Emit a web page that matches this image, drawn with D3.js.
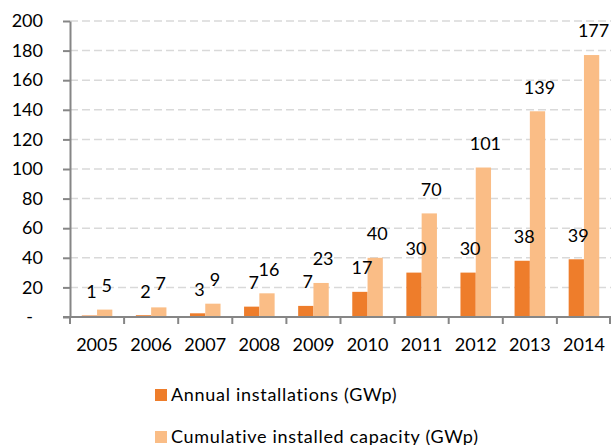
<!DOCTYPE html>
<html>
<head>
<meta charset="utf-8">
<script src="https://cdn.jsdelivr.net/npm/d3@7"></script>
<style>
  body { margin: 0; background: #fff; }
  text { font-family: Lato, "Open Sans", sans-serif; fill: #000; }
</style>
</head>
<body>
<div id="chart"></div>
<script>
// data
var years = ["2005", "2006", "2007", "2008", "2009", "2010", "2011", "2012", "2013", "2014"];
var annual = [1, 1.2, 2.5, 7, 7.5, 17, 30, 30, 38, 39];
var annualLabels = ["1", "2", "3", "7", "7", "17", "30", "30", "38", "39"];
var cumulative = [5, 6.5, 9, 16, 23, 40, 70, 101, 139, 177];
var cumulativeLabels = ["5", "7", "9", "16", "23", "40", "70", "101", "139", "177"];
var yTicks = [0, 20, 40, 60, 80, 100, 120, 140, 160, 180, 200];
var seriesNames = ["Annual installations (GWp)", "Cumulative installed capacity (GWp)"];
var colors = ["#EE7D2B", "#FABD86"];

var width = 612, height = 445;
var fontSize = 18;

var svg = d3.select("#chart")
  .append("svg")
  .attr("width", width)
  .attr("height", height);

var x = d3.scaleBand()
  .domain(years)
  .range([70, 611])
  .paddingInner(0)
  .paddingOuter(0);

var x1 = d3.scaleBand()
  .domain(["a", "c"])
  .range([0, x.bandwidth()])
  .paddingInner(0)
  .paddingOuter(0.77);

var y = d3.scaleLinear()
  .domain([0, 200])
  .range([317, 21]);

// gridlines
svg.append("g")
  .selectAll("line")
  .data(yTicks.slice(1))
  .enter()
  .append("line")
  .attr("x1", 70)
  .attr("x2", 611)
  .attr("y1", function(d) { return y(d); })
  .attr("y2", function(d) { return y(d); })
  .attr("stroke", "#d9d9d9")
  .attr("stroke-width", 1.5)
  .attr("stroke-dasharray", "8,4");

// bars
var groups = svg.append("g")
  .selectAll("g")
  .data(years)
  .enter()
  .append("g")
  .attr("transform", function(d) { return "translate(" + x(d) + ",0)"; });

groups.append("rect")
  .attr("x", x1("a"))
  .attr("y", function(d, i) { return y(annual[i]); })
  .attr("width", x1.bandwidth())
  .attr("height", function(d, i) { return y(0) - y(annual[i]); })
  .attr("fill", colors[0]);

groups.append("rect")
  .attr("x", x1("c"))
  .attr("y", function(d, i) { return y(cumulative[i]); })
  .attr("width", x1.bandwidth())
  .attr("height", function(d, i) { return y(0) - y(cumulative[i]); })
  .attr("fill", colors[1]);

// data labels
groups.append("text")
  .attr("x", x1("a") + x1.bandwidth() / 2 + 2)
  .attr("y", function(d, i) { return y(annual[i]) - 24; })
  .attr("dy", "0.35em")
  .attr("text-anchor", "middle")
  .attr("font-size", fontSize)
  .text(function(d, i) { return annualLabels[i]; });

groups.append("text")
  .attr("x", x1("c") + x1.bandwidth() / 2 + 2)
  .attr("y", function(d, i) { return y(cumulative[i]) - 24; })
  .attr("dy", "0.35em")
  .attr("text-anchor", "middle")
  .attr("font-size", fontSize)
  .text(function(d, i) { return cumulativeLabels[i]; });

// y axis
var yAxis = svg.append("g")
  .attr("transform", "translate(70,0)")
  .call(d3.axisLeft(y)
    .tickValues(yTicks)
    .tickSize(7)
    .tickSizeOuter(0)
    .tickPadding(20)
    .tickFormat(function(d) { return d === 0 ? "-" : d; }));
yAxis.select(".domain").attr("stroke", "#868686").attr("stroke-width", 2);
yAxis.selectAll(".tick line").attr("stroke", "#868686").attr("stroke-width", 2);
yAxis.selectAll(".tick text")
  .attr("font-size", fontSize)
  .attr("font-family", "Lato, 'Open Sans', sans-serif")
  .attr("fill", "#000")
  .attr("dx", function(d) { return d === 0 ? -10 : 0; });

// x axis: tick marks at category boundaries
var xAxis = svg.append("g");
xAxis.append("line")
  .attr("x1", 63)
  .attr("x2", 611)
  .attr("y1", y(0))
  .attr("y2", y(0))
  .attr("stroke", "#868686")
  .attr("stroke-width", 2);
xAxis.selectAll(".xtick")
  .data(years.concat(["end"]))
  .enter()
  .append("line")
  .attr("class", "xtick")
  .attr("x1", function(d) { return d === "end" ? x.range()[1] - 1 : x(d); })
  .attr("x2", function(d) { return d === "end" ? x.range()[1] - 1 : x(d); })
  .attr("y1", y(0))
  .attr("y2", y(0) + 7)
  .attr("stroke", "#868686")
  .attr("stroke-width", 2);
xAxis.selectAll(".xlabel")
  .data(years)
  .enter()
  .append("text")
  .attr("class", "xlabel")
  .attr("x", function(d) { return x(d) + x.bandwidth() / 2; })
  .attr("y", 345)
  .attr("dy", "0.35em")
  .attr("text-anchor", "middle")
  .attr("font-size", fontSize)
  .text(function(d) { return d; });

// legend
var legend = svg.append("g")
  .selectAll("g")
  .data(seriesNames)
  .enter()
  .append("g")
  .attr("transform", function(d, i) { return "translate(155," + (395 + i * 42) + ")"; });

legend.append("rect")
  .attr("x", 0)
  .attr("y", -6)
  .attr("width", 12)
  .attr("height", 12)
  .attr("fill", function(d, i) { return colors[i]; });

legend.append("text")
  .attr("x", 16)
  .attr("y", 0)
  .attr("dy", "0.35em")
  .attr("font-size", fontSize)
  .attr("letter-spacing", "0.7px")
  .text(function(d) { return d; });
</script>
</body>
</html>
